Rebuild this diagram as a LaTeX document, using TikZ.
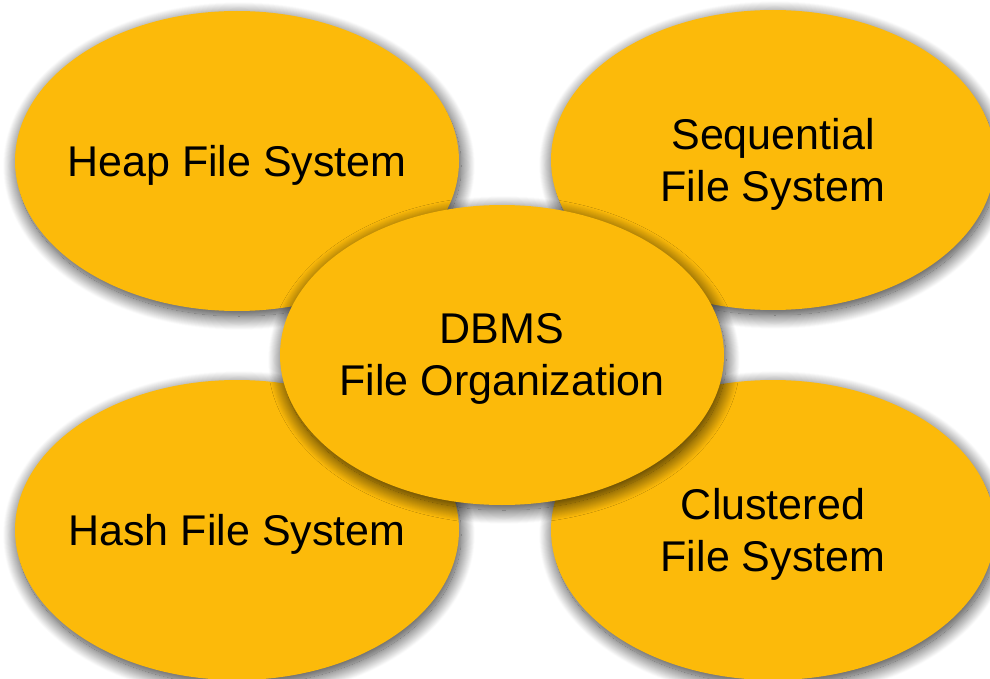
\documentclass[tikz,border=0pt]{standalone}
\usepackage{fontspec}
\setmainfont{Liberation Sans}
\usetikzlibrary{shapes.geometric,shadows.blur}

\definecolor{gold}{RGB}{252,186,10}

\tikzset{every picture/.style={line width=0.75pt}}
\tikzset{
  blob/.style={ellipse, fill=gold, draw=none, inner sep=0pt,
    minimum width=444pt, minimum height=300pt,
    blur shadow={shadow xshift=2pt, shadow yshift=-5pt, shadow blur radius=14pt,
      shadow blur steps=30, shadow opacity=80}},
  caption/.style={align=center, inner sep=0pt, yshift=-4pt,
    font=\fontsize{43}{52}\selectfont}
}

\begin{document}
\begin{tikzpicture}[x=1pt,y=1pt,yscale=-1]
\useasboundingbox (0,0) rectangle (990,679);

%Shape: Ellipse [heap]
\node [blob] (heap) at (237,161) {};
%Shape: Ellipse [seq]
\node [blob] (seq) at (773,160) {};
%Shape: Ellipse [hash]
\node [blob] (hash) at (237,530) {};
%Shape: Ellipse [clus]
\node [blob] (clus) at (773,530) {};
%Shape: Ellipse [dbms]
\node [blob] (dbms) at (502,355) {};

% Text Node
\node [caption] (heaptxt) at (heap) {Heap File System};
% Text Node
\node [caption] (seqtxt) at (seq) {Sequential\\File System};
% Text Node
\node [caption] (hashtxt) at (hash) {Hash File System};
% Text Node
\node [caption] (clustxt) at (clus) {Clustered\\File System};
% Text Node
\node [caption] (dbmstxt) at (dbms) {DBMS\\File Organization};

\end{tikzpicture}
\end{document}
